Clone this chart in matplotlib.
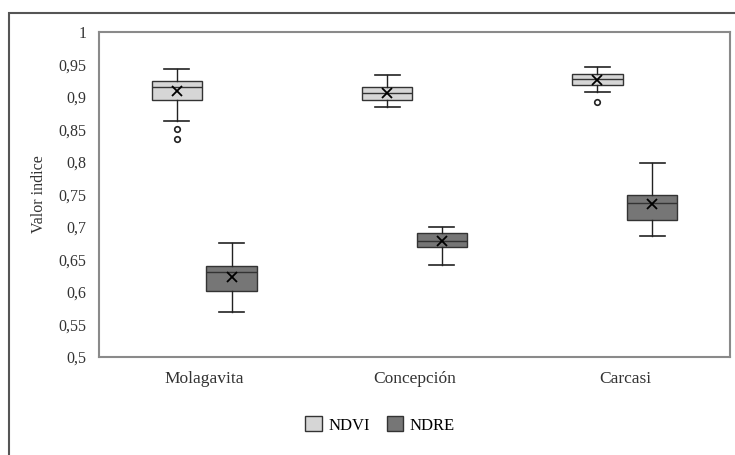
import matplotlib.pyplot as plt
from matplotlib.patches import Rectangle, Patch

plt.rcParams['font.family'] = ['Liberation Serif', 'DejaVu Serif']

sitios = ['Molagavita', 'Concepción', 'Carcasi']
series = ['NDVI', 'NDRE']

# valores: [Molagavita, Concepcion, Carcasi]
ndvi_whislo = [0.863, 0.885, 0.908]
ndvi_q1 = [0.895, 0.895, 0.918]
ndvi_med = [0.915, 0.906, 0.928]
ndvi_q3 = [0.925, 0.915, 0.935]
ndvi_whishi = [0.943, 0.934, 0.946]
ndvi_mean = [0.909, 0.906, 0.926]
ndvi_fliers = [[0.851, 0.835], [], [0.892]]

ndre_whislo = [0.569, 0.642, 0.686]
ndre_q1 = [0.602, 0.669, 0.711]
ndre_med = [0.631, 0.678, 0.737]
ndre_q3 = [0.640, 0.691, 0.749]
ndre_whishi = [0.675, 0.700, 0.798]
ndre_mean = [0.623, 0.678, 0.735]
ndre_fliers = [[], [], []]

yticks = [0.5, 0.55, 0.6, 0.65, 0.7, 0.75, 0.8, 0.85, 0.9, 0.95, 1]

colores = {'NDVI': '#d6d6d6', 'NDRE': '#767676'}


def stats(lo, q1, med, q3, hi, mean, fl):
    out = []
    for i in range(len(lo)):
        out.append(dict(whislo=lo[i], q1=q1[i], med=med[i], q3=q3[i],
                        whishi=hi[i], mean=mean[i], fliers=fl[i]))
    return out


fig = plt.figure(figsize=(7.35, 4.55), dpi=100)
ax = fig.add_axes([99 / 735, 1 - 357 / 455, 631 / 735, 325 / 455])

datos = {
    'NDVI': stats(ndvi_whislo, ndvi_q1, ndvi_med, ndvi_q3, ndvi_whishi, ndvi_mean, ndvi_fliers),
    'NDRE': stats(ndre_whislo, ndre_q1, ndre_med, ndre_q3, ndre_whishi, ndre_mean, ndre_fliers),
}
offs = {'NDVI': -0.13, 'NDRE': 0.13}

for s in series:
    pos = [i + offs[s] for i in range(len(sitios))]
    ax.bxp(datos[s], positions=pos, widths=0.24, patch_artist=True, showmeans=True,
           boxprops=dict(facecolor=colores[s], edgecolor='#333333', linewidth=1.0),
           medianprops=dict(color='#333333', linewidth=1.0),
           whiskerprops=dict(color='#222222', linewidth=1.0),
           capprops=dict(color='#222222', linewidth=1.2),
           meanprops=dict(marker='x', markeredgecolor='black', markersize=7, markeredgewidth=1.3),
           flierprops=dict(marker='o', markerfacecolor='white', markeredgecolor='#222222',
                           markersize=4, markeredgewidth=1.2),
           manage_ticks=False)

ax.set_xlim(-0.5, 2.5)
ax.set_ylim(0.5, 1.0)
ax.set_yticks(yticks)
ax.set_yticklabels([('%g' % t).replace('.', ',') for t in yticks], fontsize=11.5)
ax.set_xticks(range(len(sitios)))
ax.set_xticklabels(sitios, fontsize=12.5)
ax.tick_params(axis='y', length=0, pad=9, colors='#333333')
ax.tick_params(axis='x', length=0, pad=10, colors='#333333')
ax.set_ylabel('Valor indice', fontsize=11.5, color='#333333', labelpad=8)
for sp in ax.spines.values():
    sp.set_color('#8a8a8a')
    sp.set_linewidth(1.5)

handles = [Patch(facecolor=colores[s], edgecolor='#333333', label=s) for s in series]
fig.legend(handles=handles, loc='center', bbox_to_anchor=(380 / 735, 1 - 425 / 455),
           ncol=2, frameon=False, fontsize=12, handlelength=1.0, handleheight=1.0,
           columnspacing=1.0, handletextpad=0.4)

fig.patches.append(Rectangle((9 / 735, -0.1), 1.0, 1 - 13 / 455 + 0.1,
                             transform=fig.transFigure, fill=False,
                             edgecolor='#555555', linewidth=1.5))

fig.savefig('out.png', dpi=100)
